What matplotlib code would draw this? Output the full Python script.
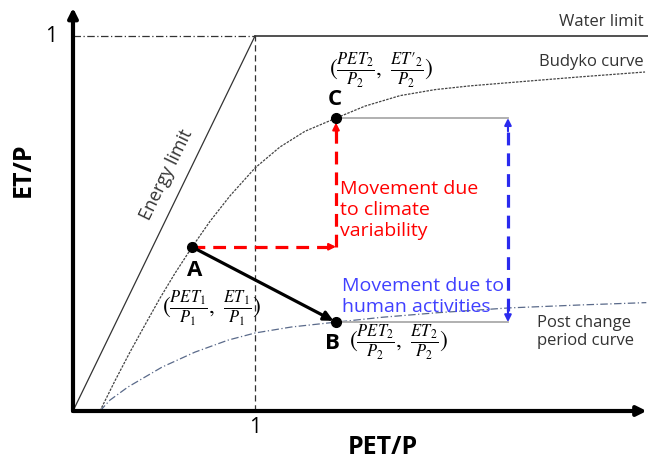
import numpy as np
import matplotlib
matplotlib.use('Agg')
import matplotlib.pyplot as plt

plt.rcParams['font.family'] = ['Open Sans', 'DejaVu Sans']
plt.rcParams['mathtext.fontset'] = 'stix'

# Budyko curve
budyko_x = [0.148, 0.231, 0.313, 0.396, 0.478, 0.560, 0.654, 0.753, 0.863, 1.000, 1.137,
            1.275, 1.445, 1.604, 1.797, 1.989, 2.181, 2.456, 2.786, 3.143]
budyko_y = [0.000, 0.081, 0.157, 0.230, 0.301, 0.367, 0.437, 0.506, 0.574, 0.648, 0.704,
            0.746, 0.781, 0.813, 0.841, 0.857, 0.867, 0.878, 0.891, 0.904]

# post change period curve
post_x = [0.148, 0.203, 0.302, 0.489, 0.670, 0.852, 1.000, 1.200, 1.445, 1.700, 2.000, 2.400, 2.800, 3.150]
post_y = [0.000, 0.029, 0.064, 0.117, 0.157, 0.189, 0.208, 0.224, 0.237, 0.250, 0.262, 0.275, 0.283, 0.289]

# points A, B, C
A = (0.652, 0.438)
B = (1.445, 0.237)
C = (1.445, 0.781)
x_human = 2.39

fig = plt.figure(figsize=(6.48, 4.59), dpi=100)
ax = fig.add_axes([0, 0, 1, 1])
ax.set_xlim(-73 / 182, 575 / 182)
ax.set_ylim(-48 / 375, 411 / 375)
ax.axis('off')

# axes with arrows
ax.annotate('', xy=(0, 1.075), xytext=(0, 0),
            arrowprops=dict(arrowstyle='-|>', lw=3, color='black', mutation_scale=14, shrinkA=0, shrinkB=0))
ax.annotate('', xy=(3.152, 0), xytext=(0, 0),
            arrowprops=dict(arrowstyle='-|>', lw=3, color='black', mutation_scale=14, shrinkA=0, shrinkB=0))

# limits
ax.plot([0, 1], [0, 1], color='#333333', lw=0.9)
ax.plot([1, 3.16], [1, 1], color='#333333', lw=1.2)
ax.plot([0, 1], [1, 1], color='#333333', lw=0.9, dashes=[6, 2, 1, 2])
ax.plot([1, 1], [0, 1], color='#333333', lw=0.9, dashes=[5, 3])

# curves
ax.plot(budyko_x, budyko_y, color='#444444', lw=0.9, dashes=[2, 1])
ax.plot(post_x, post_y, color='#5a6a8a', lw=0.9, dashes=[6, 2, 1, 2])

# gray reference lines
ax.plot([C[0], x_human], [C[1], C[1]], color='#aaaaaa', lw=1.3)
ax.plot([B[0], x_human], [B[1], B[1]], color='#aaaaaa', lw=1.3)

# A -> B
ax.annotate('', xy=B, xytext=A,
            arrowprops=dict(arrowstyle='-|>', lw=2.3, color='black', mutation_scale=14, shrinkA=0, shrinkB=2))

# climate variability arrows (red)
red = '#ff0000'
ax.plot([A[0], C[0] - 0.03], [A[1], A[1]], color=red, lw=2.3, dashes=[4, 2.5])
ax.annotate('', xy=(C[0], A[1]), xytext=(C[0] - 0.04, A[1]),
            arrowprops=dict(arrowstyle='-|>', lw=1.5, color=red, mutation_scale=10, shrinkA=0, shrinkB=0))
ax.plot([C[0], C[0]], [A[1], C[1] - 0.03], color=red, lw=2.3, dashes=[4, 2.5])
ax.annotate('', xy=(C[0], C[1] - 0.012), xytext=(C[0], C[1] - 0.04),
            arrowprops=dict(arrowstyle='-|>', lw=1.5, color=red, mutation_scale=10, shrinkA=0, shrinkB=0))

# human activities arrow (blue)
blue = '#2a2aee'
ax.plot([x_human, x_human], [B[1] + 0.03, C[1] - 0.03], color=blue, lw=2.3, dashes=[4, 2.5])
ax.annotate('', xy=(x_human, C[1]), xytext=(x_human, C[1] - 0.035),
            arrowprops=dict(arrowstyle='-|>', lw=1.5, color=blue, mutation_scale=10, shrinkA=0, shrinkB=0))
ax.annotate('', xy=(x_human, B[1]), xytext=(x_human, B[1] + 0.035),
            arrowprops=dict(arrowstyle='-|>', lw=1.5, color=blue, mutation_scale=10, shrinkA=0, shrinkB=0))

# points
ax.plot([A[0], B[0], C[0]], [A[1], B[1], C[1]], 'o', color='black', ms=7, zorder=5)

# point labels
ax.text(0.67, 0.375, 'A', fontsize=16, fontweight='bold', ha='center', va='center')
ax.text(1.44, 0.83, 'C', fontsize=16, fontweight='bold', ha='center', va='center')
ax.text(1.425, 0.18, 'B', fontsize=16, fontweight='bold', ha='center', va='center')
ax.text(0.764, 0.275, r'$(\frac{PET_1}{P_1},\ \frac{ET_1}{P_1})$', fontsize=17, ha='center', va='center')
ax.text(1.79, 0.183, r'$(\frac{PET_2}{P_2},\ \frac{ET_2}{P_2})$', fontsize=17, ha='center', va='center')
ax.text(1.692, 0.91, r"$(\frac{PET_2}{P_2},\ \frac{ET\prime_2}{P_2})$", fontsize=17, ha='center', va='center')

# curve labels
ax.text(3.135, 1.037, 'Water limit', fontsize=12, color='#333333', ha='right', va='center')
ax.text(3.135, 0.931, 'Budyko curve', fontsize=12, color='#333333', ha='right', va='center')
ax.text(2.55, 0.21, 'Post change\nperiod curve', fontsize=12, color='#333333', ha='left', va='center',
        linespacing=1.15)
ax.text(0.516, 0.629, 'Energy limit', fontsize=13, color='#333333', rotation=64,
        ha='center', va='center', rotation_mode='anchor')

ax.text(1.465, 0.536, 'Movement due\nto climate\nvariability', fontsize=14, color=red,
        ha='left', va='center', linespacing=1.2)
ax.text(1.48, 0.305, 'Movement due to\nhuman activities', fontsize=14, color='#4040ff',
        ha='left', va='center', linespacing=1.25)

# axis labels and ticks
ax.text(-0.12, 1.0, '1', fontsize=15, ha='center', va='center')
ax.text(1.0, -0.045, '1', fontsize=15, ha='center', va='center')
ax.text(-0.275, 0.643, 'ET/P', fontsize=18, fontweight='bold', rotation=90, ha='center', va='center')
ax.text(1.70, -0.096, 'PET/P', fontsize=18, fontweight='bold', ha='center', va='center')

fig.savefig('out.png', dpi=100)
